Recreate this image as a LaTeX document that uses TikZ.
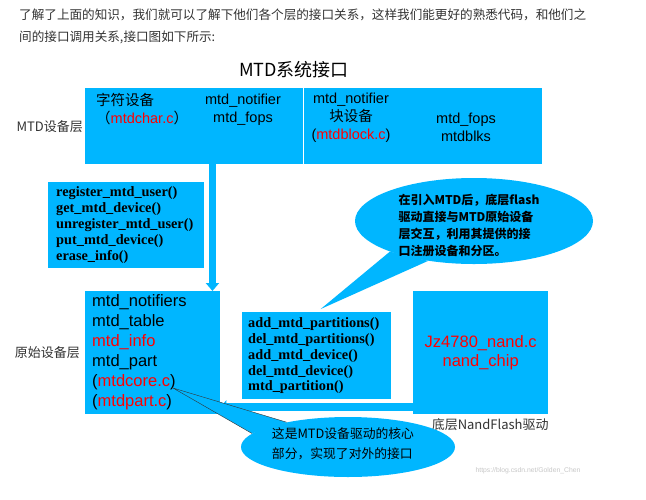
\documentclass[tikz,border=0pt]{standalone}
\usepackage{fontspec}
\setmainfont{Liberation Sans}
\newfontfamily\cjk{Noto Sans CJK SC}
\newfontfamily\apifont{Liberation Serif}
\usetikzlibrary{arrows.meta,shapes.geometric,positioning}
\definecolor{mtdblue}{RGB}{0,182,255}
\definecolor{headgray}{RGB}{51,51,51}
\tikzset{
  box/.style={fill=mtdblue,anchor=north west,inner sep=0pt},
  boxtext/.style={font=\fontsize{14.5}{18}\selectfont,align=center,inner sep=0pt},
  apitext/.style={font=\apifont\bfseries\fontsize{14.3}{15.9}\selectfont,align=left},
  layer/.style={font=\cjk\fontsize{13}{15}\selectfont,inner sep=0pt,text=headgray},
  flow/.style={draw=mtdblue,line width=7pt,-{Triangle[width=13pt,length=8pt]}},
  bubble/.style={ellipse,fill=mtdblue,inner sep=0pt}
}
\begin{document}
\begin{tikzpicture}[x=1pt,y=-1pt]
\fill[white] (0,0) rectangle (646,499);
\useasboundingbox (0,0) rectangle (646,499);
% intro text
\node[anchor=west,inner sep=0pt,text=headgray,font=\cjk\fontsize{12.6}{15}\selectfont] (intro) at (19,15) {了解了上面的知识，我们就可以了解下他们各个层的接口关系，这样我们能更好的熟悉代码，和他们之};
\node[anchor=west,inner sep=0pt,text=headgray,font=\cjk\fontsize{12.6}{15}\selectfont] (intro2) at (19,37) {间的接口调用关系,接口图如下所示:};
\node[font=\cjk\fontsize{18}{20}\selectfont] (title) at (294,70) {MTD系统接口};
% MTD device layer
\node[box,minimum width=217.5pt,minimum height=76pt] (chardev) at (85,88) {};
\node[box,minimum width=238.5pt,minimum height=76pt] (blockdev) at (303.5,88) {};
\node[boxtext,anchor=west,align=left] (charname) at (96,109.5) {{\cjk 字符设备}\\{\cjk （}\textcolor{red}{mtdchar.c}{\cjk ）}};
\node[boxtext] (charops) at (243,109.5) {mtd\_notifier\\mtd\_fops};
\node[boxtext] (blkname) at (351,118) {mtd\_notifier\\{\cjk 块设备}\\(\textcolor{red}{mtdblock.c})};
\node[boxtext] (blkops) at (466,127.5) {mtd\_fops\\mtdblks};
\node[layer,left=2pt of chardev] (devlayer) {MTD设备层};
% interface lists
\node[box,apitext,minimum width=156pt,minimum height=86pt,text width=140pt,inner xsep=8pt] (userapi) at (48,182) {register\_mtd\_user()\\get\_mtd\_device()\\unregister\_mtd\_user()\\put\_mtd\_device()\\erase\_info()};
\node[box,apitext,minimum width=149pt,minimum height=87pt,text width=137pt,inner xsep=6pt] (partapi) at (242,312) {add\_mtd\_partitions()\\del\_mtd\_partitions()\\add\_mtd\_device()\\del\_mtd\_device()\\mtd\_partition()};
% raw device layer
\node[box,minimum width=135pt,minimum height=123pt,text width=121pt,inner xsep=7pt,align=left,font=\fontsize{16.5}{20}\selectfont] (core) at (85,291) {mtd\_notifiers\\mtd\_table\\\textcolor{red}{mtd\_info}\\mtd\_part\\(\textcolor{red}{mtdcore.c})\\(\textcolor{red}{mtdpart.c})};
\node[layer,left=5pt of core] (rawlayer) {原始设备层};
\node[box,minimum width=135pt,minimum height=123pt,align=center,text=red,font=\fontsize{16.5}{19}\selectfont] (nanddrv) at (413,291) {Jz4780\_nand.c\\nand\_chip};
\node[layer,below=3.5pt of nanddrv,xshift=9.5pt] (nandlayer) {底层NandFlash驱动};
% connectors
\draw[flow] ([xshift=18.5pt]chardev.south) -- ([xshift=18.5pt]chardev.south |- core.north);
\draw[draw=mtdblue,line width=8pt,-{Triangle[width=14pt,length=6pt]}] ([yshift=-54.5pt]nanddrv.west) -- ([yshift=-54.5pt]core.east);
% callouts
\node[bubble,minimum width=238pt,minimum height=86pt] (note) at (474,221) {};
\coordinate (notetip) at ([xshift=4pt,yshift=3pt]partapi.north);
\fill[mtdblue] (notetip) -- (note.200) -- (note.221) -- cycle;
\node[align=left,inner sep=0pt,font=\cjk\bfseries\fontsize{12}{17}\selectfont] (notetext) at (469,225) {在引入MTD后，底层flash\\驱动直接与MTD原始设备\\层交互，利用其提供的接\\口注册设备和分区。};
\node[bubble,minimum width=214pt,minimum height=60pt] (corenote) at (348,447) {};
\coordinate (coretip) at (173,388);
\fill[mtdblue] (coretip) -- (corenote.158) -- (corenote.172) -- cycle;
\draw[black!80] (corenote.158) -- (coretip) -- (corenote.172);
\node[align=left,inner sep=0pt,font=\cjk\fontsize{12.8}{20}\selectfont] (corenotetext) at (343,444) {这是MTD设备驱动的核心\\部分，实现了对外的接口};
\node[inner sep=0pt,text=black!22,font=\fontsize{6.8}{8}\selectfont] (mark) at (528,471) {https://blog.csdn.net/Golden\_Chen};
\end{tikzpicture}
\end{document}
